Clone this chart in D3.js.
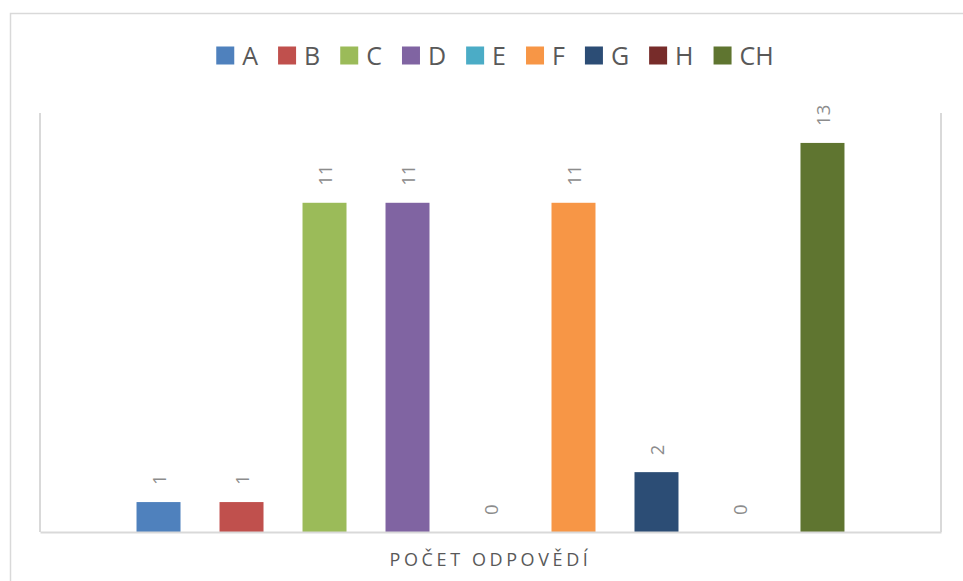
<!DOCTYPE html>
<html>
<head>
<meta charset="utf-8">
<script src="https://cdn.jsdelivr.net/npm/d3@7/dist/d3.min.js"></script>
<style>
  html, body { margin: 0; padding: 0; background: #ffffff; }
  svg { display: block; }
  text { font-family: "Open Sans", "Noto Sans", sans-serif; }
</style>
</head>
<body>
<script>
// Answers per option (single category, one series per option)
const series = ["A", "B", "C", "D", "E", "F", "G", "H", "CH"];
const counts = [1, 1, 11, 11, 0, 11, 2, 0, 13];
const colors = ["#4f81bd", "#c0504d", "#9bbb59", "#8064a2", "#4bacc6", "#f79646", "#2c4d75", "#772c2a", "#5f7530"];
const categoryLabel = "Počet odpovědí";
const yDomain = [0, 14];

const W = 963, H = 581;
const plot = { left: 40, right: 941, top: 113, bottom: 532 };

const svg = d3.select("body").append("svg")
  .attr("width", W).attr("height", H);

// chart frame
svg.append("rect")
  .attr("x", 10.5).attr("y", 13.5)
  .attr("width", W + 20).attr("height", H + 20)
  .attr("fill", "#ffffff").attr("stroke", "#d9d9d9").attr("stroke-width", 1.5);

const x = d3.scaleBand()
  .domain(series)
  .range([plot.left, plot.right])
  .paddingInner(0.47)
  .paddingOuter(1.163);

const y = d3.scaleLinear().domain(yDomain).range([plot.bottom, plot.top]);

const data = series.map((s, i) => ({ name: s, value: counts[i], color: colors[i] }));

// plot side lines
[plot.left, plot.right].forEach(px => {
  svg.append("line")
    .attr("x1", px).attr("x2", px)
    .attr("y1", y(yDomain[1])).attr("y2", y(0))
    .attr("stroke", "#d9d9d9").attr("stroke-width", 2);
});

// bars
svg.append("g").selectAll("rect")
  .data(data).join("rect")
  .attr("x", d => x(d.name))
  .attr("y", d => y(d.value))
  .attr("width", x.bandwidth())
  .attr("height", d => y(0) - y(d.value))
  .attr("fill", d => d.color);

// category axis line
const xAxis = d3.axisBottom(d3.scaleBand().domain([categoryLabel]).range([plot.left, plot.right]))
  .tickSize(0).tickFormat("");
const gx = svg.append("g").attr("transform", `translate(0,${y(0)})`).call(xAxis);
gx.select(".domain").attr("stroke", "#d9d9d9").attr("stroke-width", 2);

// category label
svg.append("text")
  .attr("x", (plot.left + plot.right) / 2)
  .attr("y", 566)
  .attr("text-anchor", "middle")
  .attr("fill", "#595959")
  .style("font-size", "18px")
  .style("letter-spacing", "3.6px")
  .text(categoryLabel.toUpperCase());

// value labels, rotated
svg.append("g").selectAll("text")
  .data(data).join("text")
  .attr("transform", d => `translate(${x(d.name) + x.bandwidth() / 2},${y(d.value) - 17}) rotate(-90)`)
  .attr("text-anchor", "start")
  .attr("dominant-baseline", "central")
  .attr("fill", "#8c8c8c")
  .style("font-size", "18.5px")
  .text(d => d.value);

// legend
const legend = svg.append("g");
const sw = 18, gapText = 8, gapItem = 20;
let cursor = 0;
data.forEach(d => {
  const g = legend.append("g").attr("transform", `translate(${cursor},0)`);
  g.append("rect").attr("x", 0).attr("y", 46.5).attr("width", sw).attr("height", sw).attr("fill", d.color);
  const t = g.append("text")
    .attr("x", sw + gapText).attr("y", 65)
    .attr("fill", "#595959")
    .style("font-size", "25px")
    .text(d.name);
  cursor += sw + gapText + t.node().getComputedTextLength() + gapItem;
});
const legendWidth = cursor - gapItem;
legend.attr("transform", `translate(${495 - legendWidth / 2},0)`);
</script>
</body>
</html>
